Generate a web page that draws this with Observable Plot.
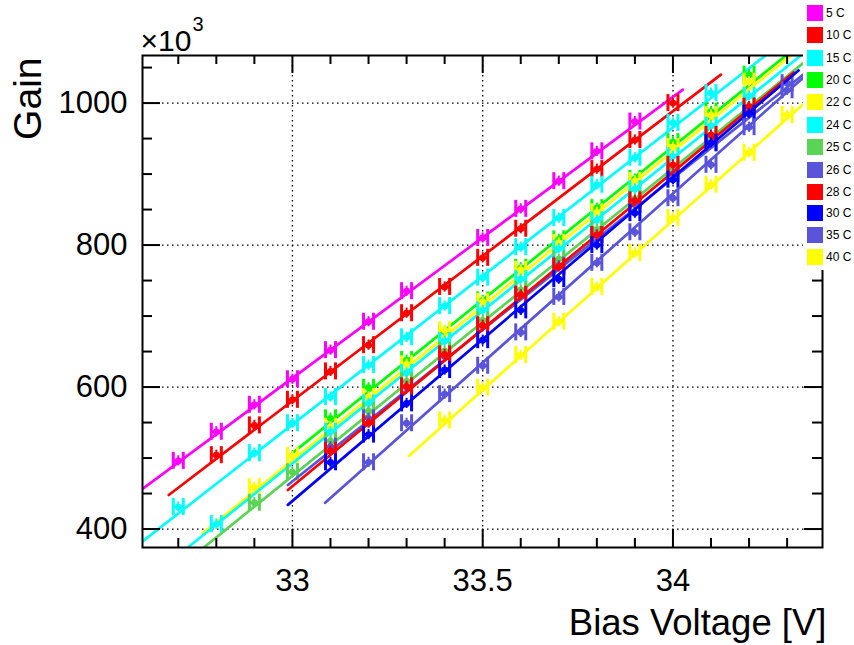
<!DOCTYPE html>
<html><head><meta charset="utf-8">
<script src="https://cdn.jsdelivr.net/npm/d3@7"></script>
<script src="https://cdn.jsdelivr.net/npm/@observablehq/plot@0.6"></script>
<style>
body{margin:0;background:#fff;}
#wrap{position:relative;width:854px;height:645px;overflow:hidden;}
#legend{position:absolute;left:803px;top:0;width:51px;height:270px;background:#fff;font-family:"Liberation Sans",Arial,sans-serif;font-size:12px;color:#000;}
.row{position:absolute;left:4px;height:16px;display:flex;align-items:center;white-space:nowrap;}
.sw{width:16px;height:16px;margin-right:3px;flex:none;}
</style></head><body><div id="wrap"></div>
<script>
// ---- data ----
const seriesNames = ["5 C","10 C","15 C","20 C","22 C","24 C","25 C","26 C","28 C","30 C","35 C","40 C"];
const seriesColors = ["#ff00ff","#ff0000","#00ffff","#00ff00","#ffff00","#00ffff","#59d454","#5954d9","#ff0000","#0000ff","#5954d9","#ffff00"];

const volt05 = [32.7,32.8,32.9,33.0,33.1,33.2,33.3,33.5,33.6,33.7,33.8,33.9];
const gain05 = [496,537,575,611,652,692,735,810,851,890,932,974];
const volt10 = [32.8,32.9,33.0,33.1,33.2,33.3,33.4,33.5,33.6,33.8,33.9,34.0];
const gain10 = [504,546,582,622,659,704,741,782,823,907,948,1000];
const volt15 = [32.7,32.9,33.0,33.1,33.2,33.3,33.4,33.5,33.6,33.7,33.8,33.9,34.0,34.1];
const gain15 = [431,507,549,586,631,670,714,754,797,838,885,923,972,1014];
const volt20 = [33.1,33.2,33.3,33.4,33.5,33.6,33.7,33.8,33.9,34.0,34.1,34.2];
const gain20 = [556,599,638,678,722,768,808,852,893,945,988,1040];
const volt22 = [32.9,33.0,33.1,33.2,33.3,33.4,33.5,33.6,33.7,33.8,33.9,34.0,34.1,34.2];
const gain22 = [459,503,544,586,632,680,720,765,803,846,890,938,983,1030];
const volt24 = [32.8,33.1,33.2,33.3,33.4,33.5,33.6,33.7,33.8,33.9,34.0,34.1,34.2];
const gain24 = [407,537,577,620,665,708,752,795,835,879,925,968,1010];
const volt25 = [32.9,33.0,33.1,33.2,33.3,33.4,33.5,33.6,33.7,33.8,33.9,34.0,34.1,34.2];
const gain25 = [437,480,524,566,608,651,694,737,780,822,865,908,952,995];
const volt26 = [33.1,33.2,33.3,33.4,33.5,33.6,33.7,33.8,33.9,34.0,34.1,34.2,34.3];
const gain26 = [516,556,600,643,686,729,771,814,857,900,943,986,1028];
const volt28 = [33.1,33.2,33.3,33.4,33.5,33.6,33.7,33.8,33.9,34.0,34.1,34.2];
const gain28 = [510,549,601,646,687,730,769,814,863,913,955,995];
const volt30 = [33.1,33.2,33.3,33.4,33.5,33.6,33.7,33.8,33.9,34.0,34.1,34.2];
const gain30 = [494,533,577,624,666,708,752,800,845,892,944,985];
const volt35 = [33.2,33.3,33.4,33.5,33.6,33.7,33.8,33.9,34.0,34.1,34.2,34.3];
const gain35 = [494,549,590,630,677,727,775,818,866,913,966,1018];
const volt40 = [33.4,33.5,33.6,33.7,33.8,33.9,34.0,34.1,34.2,34.3];
const gain40 = [553,599,645,692,741,789,838,885,930,983];

// fit line end points (start V, start gain, end V, end gain)
const fitV0 = [32.607,32.675,32.607,33.0,32.764,32.725,32.767,32.988,32.988,32.988,33.086,33.306];
const fitG0 = [457,448,383,507,394,374,374,462,455,434,437,503];
const fitV1 = [34.026,34.126,34.243,34.297,34.31,34.336,34.344,34.349,34.317,34.33,34.349,34.362];
const fitG1 = [1019,1040,1067,1067,1067,1067,1057,1043,1043,1046,1039,1008];

const xMajorTicks = [33, 33.5, 34];
const xMinorTicks = [32.7,32.8,32.9,33.1,33.2,33.3,33.4,33.6,33.7,33.8,33.9,34.1,34.2,34.3];
const yMajorTicks = [400, 600, 800, 1000];
const yMinorTicks = [450,500,550,650,700,750,850,900,950,1050];
const xTickLabels = ["33","33.5","34"];
const yTickLabels = ["400","600","800","1000"];

// ---- layout ----
const W = 854, H = 645;
const mL = 142, mR = 32, mT = 55, mB = 98;
const xDom = [32.606, 34.393], yDom = [374, 1067];
const pxX = (xDom[1]-xDom[0])/(W-mL-mR);
const pxY = (yDom[1]-yDom[0])/(H-mT-mB);
const ex = 5*pxX, ey = 8.5*pxY;

const allVolts = [volt05,volt10,volt15,volt20,volt22,volt24,volt25,volt26,volt28,volt30,volt35,volt40];
const allGains = [gain05,gain10,gain15,gain20,gain22,gain24,gain25,gain26,gain28,gain30,gain35,gain40];

const marks = [];
const dotted = {stroke:"#000", strokeWidth:1.3, strokeDasharray:"1.5,3.5"};
marks.push(Plot.ruleX(xMajorTicks, {x: d=>d, ...dotted}));
marks.push(Plot.ruleY(yMajorTicks, {y: d=>d, ...dotted}));

seriesNames.forEach((name, i) => {
  const c = seriesColors[i];
  const pts = allVolts[i].map((v, j) => ({v, g: allGains[i][j]}));
  const fit = [{v: fitV0[i], g: fitG0[i]}, {v: fitV1[i], g: fitG1[i]}];
  marks.push(Plot.line(fit, {x:"v", y:"g", stroke:c, strokeWidth:2.7, clip:true}));
  marks.push(Plot.ruleY(pts, {y:"g", x1:d=>d.v-ex, x2:d=>d.v+ex, stroke:c, strokeWidth:3}));
  marks.push(Plot.ruleX(pts, {x:d=>d.v-ex, y1:d=>d.g-ey, y2:d=>d.g+ey, stroke:c, strokeWidth:3}));
  marks.push(Plot.ruleX(pts, {x:d=>d.v+ex, y1:d=>d.g-ey, y2:d=>d.g+ey, stroke:c, strokeWidth:3}));
  marks.push(Plot.ruleX(pts, {x:"v", y1:d=>d.g-ey*0.6, y2:d=>d.g+ey*0.6, stroke:c, strokeWidth:2}));
  marks.push(Plot.dot(pts, {x:"v", y:"g", r:3.4, fill:c, stroke:"none"}));
});

// frame & ticks (ROOT style, inside)
marks.push(Plot.frame({stroke:"#000", strokeWidth:2}));
const tk = {stroke:"#000", strokeWidth:2};
marks.push(Plot.ruleX(xMajorTicks, {x:d=>d, y1:yDom[0], y2:yDom[0]+18*pxY, ...tk}));
marks.push(Plot.ruleX(xMinorTicks, {x:d=>d, y1:yDom[0], y2:yDom[0]+9*pxY, ...tk}));
marks.push(Plot.ruleX(xMajorTicks, {x:d=>d, y1:yDom[1], y2:yDom[1]-18*pxY, ...tk}));
marks.push(Plot.ruleX(xMinorTicks, {x:d=>d, y1:yDom[1], y2:yDom[1]-9*pxY, ...tk}));
marks.push(Plot.ruleY(yMajorTicks, {y:d=>d, x1:xDom[0], x2:xDom[0]+18*pxX, ...tk}));
marks.push(Plot.ruleY(yMinorTicks, {y:d=>d, x1:xDom[0], x2:xDom[0]+10*pxX, ...tk}));
marks.push(Plot.ruleY(yMajorTicks, {y:d=>d, x1:xDom[1], x2:xDom[1]-18*pxX, ...tk}));
marks.push(Plot.ruleY(yMinorTicks, {y:d=>d, x1:xDom[1], x2:xDom[1]-10*pxX, ...tk}));

// tick labels
marks.push(Plot.text(xMajorTicks, {x:d=>d, frameAnchor:"bottom", text:(d,i)=>xTickLabels[i], dy:34, lineAnchor:"middle", fontSize:31, fill:"#000"}));
marks.push(Plot.text(yMajorTicks, {y:d=>d, frameAnchor:"left", text:(d,i)=>yTickLabels[i], dx:-15, textAnchor:"end", lineAnchor:"middle", fontSize:31, fill:"#000"}));
// axis titles
marks.push(Plot.text(["Bias Voltage [V]"], {frameAnchor:"bottom-right", text:d=>d, dx:4, dy:87, textAnchor:"end", lineAnchor:"bottom", fontSize:36.5, fill:"#000"}));
marks.push(Plot.text(["Gain"], {frameAnchor:"top-left", text:d=>d, dx:-114, dy:2, rotate:-90, textAnchor:"end", lineAnchor:"middle", fontSize:39, fill:"#000"}));
marks.push(Plot.text(["\u00d710"], {frameAnchor:"top-left", text:d=>d, dx:-2, dy:-5, textAnchor:"start", lineAnchor:"bottom", fontSize:30, fill:"#000"}));
marks.push(Plot.text(["3"], {frameAnchor:"top-left", text:d=>d, dx:50, dy:-25, textAnchor:"start", lineAnchor:"bottom", fontSize:20, fill:"#000"}));

const chart = Plot.plot({
  width: W, height: H,
  marginLeft: mL, marginRight: mR, marginTop: mT, marginBottom: mB,
  x: {domain: xDom, axis: null},
  y: {domain: yDom, axis: null},
  style: {fontFamily: "'Liberation Sans', Arial, sans-serif", background: "#fff"},
  marks
});
const wrap = document.getElementById("wrap");
wrap.appendChild(chart);

// legend (ROOT TLegend overlapping the top-right corner)
const legend = document.createElement("div");
legend.id = "legend";
const rowCenters = [13,35,58,80,102,125,147,170,192,213,235,257];
seriesNames.forEach((name, i) => {
  const row = document.createElement("div");
  row.className = "row";
  row.style.top = (rowCenters[i]-8) + "px";
  const sw = document.createElement("div");
  sw.className = "sw";
  sw.style.background = seriesColors[i];
  const t = document.createElement("span");
  t.textContent = name;
  row.appendChild(sw); row.appendChild(t);
  legend.appendChild(row);
});
wrap.appendChild(legend);
</script></body></html>
